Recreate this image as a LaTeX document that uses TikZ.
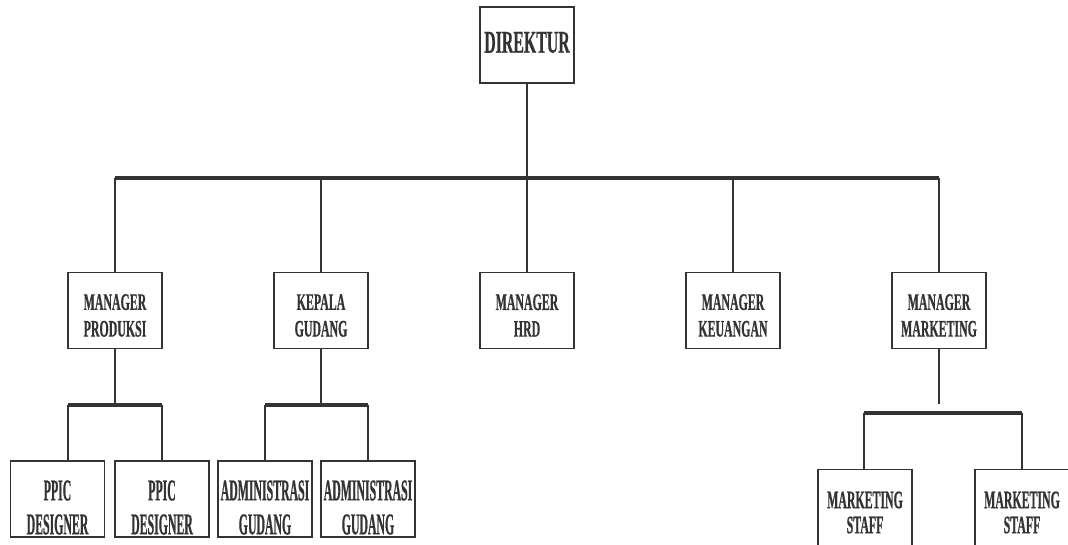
\documentclass[tikz,border=0pt]{standalone}
\usepackage{fontspec}
\newfontfamily\fA{Liberation Serif}[UprightFont=* Bold, FakeStretch=0.50, FakeBold=0.6]
\newfontfamily\fB{Liberation Serif}[UprightFont=* Bold, FakeStretch=0.39, FakeBold=0.6]
\newfontfamily\fC{Liberation Serif}[UprightFont=* Bold, FakeStretch=0.47, FakeBold=0.6]
\definecolor{ink}{HTML}{333333}
\begin{document}
\begin{tikzpicture}[x=0.75pt,y=-0.75pt,
  box/.style={draw=ink, line width=1.1pt, minimum width=70.5pt, minimum height=57pt, inner sep=0pt},
  conn/.style={draw=ink, line width=1.2pt},
  barline/.style={draw=ink, line width=2.6pt},
  lblD/.style={text=ink, inner sep=0pt, font=\fA\fontsize{23.8pt}{26pt}\selectfont},
  lblM/.style={text=ink, align=center, inner sep=0pt, font=\fA\fontsize{17.8pt}{20pt}\selectfont},
  lblB/.style={text=ink, align=center, inner sep=0pt, font=\fB\fontsize{22.7pt}{25.5pt}\selectfont},
  lblS/.style={text=ink, align=center, inner sep=0pt, font=\fC\fontsize{18.9pt}{18.75pt}\selectfont}]
\useasboundingbox[fill=white] (0,0) rectangle (1068,545);

% boxes
\node[box] (dir) at (527,45) {};
\node[box] (mp) at (115,310.5) {};
\node[box] (kg) at (321,310.5) {};
\node[box] (hrd) at (527,310.5) {};
\node[box] (keu) at (733,310.5) {};
\node[box] (mm) at (939,310.5) {};
\node[box] (pp1) at (57.5,499) {};
\node[box] (pp2) at (162,499) {};
\node[box] (ad1) at (265,499) {};
\node[box] (ad2) at (368,499) {};
\node[box] (ms1) at (865,507.5) {};
\node[box] (ms2) at (1022,507.5) {};

% labels
\node[lblD] (tdir) at (527,42.5) {DIREKTUR};
\node[lblM] (tmp) at (115,315.5) {MANAGER\\PRODUKSI};
\node[lblM] (tkg) at (321,315.5) {KEPALA\\GUDANG};
\node[lblM] (thrd) at (527,315.5) {MANAGER\\HRD};
\node[lblM] (tkeu) at (733,315.5) {MANAGER\\KEUANGAN};
\node[lblM] (tmm) at (939,315.5) {MANAGER\\MARKETING};
\node[lblB] (tpp1) at (57.5,507.5) {PPIC\\DESIGNER};
\node[lblB] (tpp2) at (162,507.5) {PPIC\\DESIGNER};
\node[lblB] (tad1) at (265,507.5) {ADMINISTRASI\\GUDANG};
\node[lblB] (tad2) at (368,507.5) {ADMINISTRASI\\GUDANG};
\node[lblS] (tms1) at (865,512.5) {MARKETING\\STAFF};
\node[lblS] (tms2) at (1022,512.5) {MARKETING\\STAFF};

% bar coordinates
\coordinate (bar) at (0,178);
\coordinate (pL) at (68,405);
\coordinate (pR) at (162,405);
\coordinate (gL) at (265,405);
\coordinate (gR) at (368,405);
\coordinate (mL) at (864,413);
\coordinate (mR) at (1022,413);
\coordinate (mEnd) at (939,404);

% connectors
\draw[conn] (dir.south) -- (dir.south |- bar);
\foreach \n in {mp,kg,hrd,keu,mm} \draw[conn] (\n.north |- bar) -- (\n.north);
\draw[barline] (mp.north |- bar) -- (mm.north |- bar);

\draw[conn] (mp.south) -- (mp.south |- pL);
\draw[barline] (pL) -- (pR);
\draw[conn] (pL) -- (pL |- pp1.north);
\draw[conn] (pR) -- (pp2.north);

\draw[conn] (kg.south) -- (kg.south |- gL);
\draw[barline] (gL) -- (gR);
\draw[conn] (gL) -- (ad1.north);
\draw[conn] (gR) -- (ad2.north);

\draw[conn] (mm.south) -- (mEnd);
\draw[barline] (mL) -- (mR);
\draw[conn] (mL) -- (mL |- ms1.north);
\draw[conn] (mR) -- (ms2.north);
\end{tikzpicture}
\end{document}
